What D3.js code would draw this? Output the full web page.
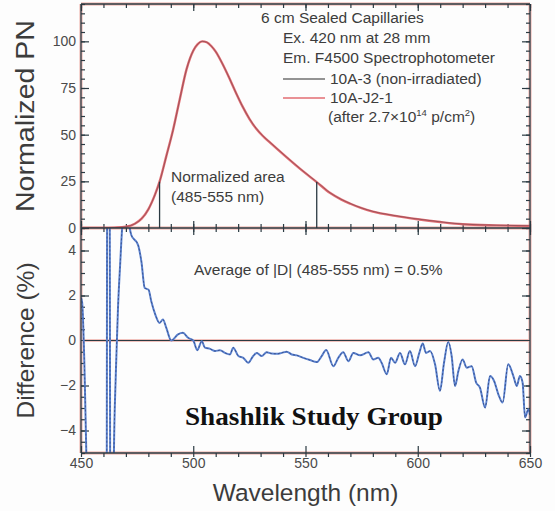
<!DOCTYPE html>
<html>
<head>
<meta charset="utf-8">
<script src="https://cdn.jsdelivr.net/npm/d3@7"></script>
<style>
body{margin:0;background:#fff;}
svg{display:block;font-family:"Liberation Sans",Arial,Helvetica,sans-serif;}
</style>
</head>
<body>
<svg id="chart" width="555" height="511"></svg>
<script>
//上图：归一化光谱（两条几乎重合的曲线）
let pnWl = [450, 460, 465, 470, 474, 477, 480, 483, 485, 488, 491, 494, 497, 500, 502, 504, 506, 508, 510, 513, 516, 519, 522, 525, 528, 531, 534, 541, 549, 555, 561, 566, 570, 575, 580, 590, 600, 610, 620, 635, 650];
let pnIrr = [0, 0, 0.2, 0.7, 2.3, 5, 10, 18, 24.8, 38.5, 52.5, 69, 85, 95, 98.5, 100, 99.5, 97.5, 94.5, 88, 80.5, 72.5, 65, 58.5, 53.3, 49.3, 46, 38.5, 30.3, 24.6, 18.7, 15.2, 13, 10.6, 8.8, 6.5, 4.7, 3.2, 2.0, 1.4, 1.1];
let pnRef = [0, 0, 0.2, 0.7, 2.3, 5, 10, 18, 24.7, 38.4, 52.4, 69, 85, 95, 98.5, 100, 99.5, 97.5, 94.5, 88, 80.5, 72.5, 65, 58.6, 53.4, 49.4, 46.1, 38.6, 30.4, 24.7, 18.8, 15.3, 13.1, 10.7, 8.9, 6.6, 4.8, 3.3, 2.1, 1.5, 1.2];
//积分区间的两条竖线
let areaWl = [485, 555];
let areaVal = [24.8, 24.6];

//下图：差值 (%)
let diffWl = [450, 450.5, 451.5, 452.5, 456, 461.3, 461.8, 462.6, 463.2, 464, 464.6, 465.5, 466.5, 467.5, 468.5, 470,
    471.7, 472.4, 475.4, 476.9, 478.4, 480.1, 481.3, 483.1, 485.0, 486.5, 488.0, 490.2, 493.2, 495.4, 497.7, 500.0,
    501.8, 503.8, 505.2, 507.5, 509.7, 511.9, 514.1, 516.4, 517.8, 520.1, 522.3, 524.5, 526.7, 528.3, 530.5, 532.7,
    534.9, 537.4, 539.4, 541.6, 543.9, 546.1, 549.0, 552.0, 555.0, 557.2, 559.2, 562.4, 564.6, 566.8, 569.1, 571.3,
    574.3, 578.0, 580.2, 582.4, 583.9, 586.2, 588.1, 589.9, 592.1, 594.3, 596.5, 598.8, 600.7, 602.2, 603.7, 605.5,
    607.7, 609.9, 611.7, 613.6, 615.1, 616.6, 618.1, 620.0, 621.8, 624.0, 626.0, 627.7, 630.0, 632.2, 634.0, 635.9,
    637.8, 640.3, 642.6, 644.1, 645.5, 646.7, 647.8, 649.3, 650];
let diffVal = [1.9, 1.7, -1.0, -5.6, -15, -15, 15, 15, -15, -15, -5.5, -1.5, 1.5, 3.5, 5.3, 6.5,
    5.0, 4.69, 4.25, 3.51, 2.33, 2.26, 1.74, 1.15, 0.78, 0.93, 0.56, 0.0, 0.27, 0.34, 0.12, 0.0,
    -0.43, -0.03, -0.32, -0.37, -0.47, -0.43, -0.55, -0.62, -0.32, -0.69, -0.77, -0.99, -0.69, -0.55, -0.69, -0.52,
    -0.58, -0.59, -0.55, -0.5, -0.62, -0.66, -0.77, -0.87, -0.96, -0.69, -0.42, -1.14, -0.77, -0.52, -0.92, -0.55,
    -0.66, -0.52, -0.84, -0.77, -0.99, -1.5, -0.77, -0.99, -0.55, -1.06, -0.47, -1.14, -0.55, -0.13, -0.55, -0.47,
    -1.06, -2.24, -0.99, -0.07, -0.69, -2.02, -1.36, -0.84, -1.21, -1.14, -1.87, -2.09, -2.98, -1.58, -1.8, -2.39,
    -2.76, -1.06, -1.58, -2.02, -1.58, -1.87, -3.42, -3.05, -3.3];

//坐标轴刻度
let xMajor = [450, 500, 550, 600, 650];
let xMinor = d3.range(450, 651, 10);
let topMajor = [0, 25, 50, 75, 100];
let topMinor = d3.range(0, 121, 5);
let botMajor = [-4, -2, 0, 2, 4];
let botMinor = d3.range(-5, 5.01, 0.5);

//画布与区域
let svg = d3.select('#chart');
let px0 = 81, px1 = 530;
let topY0 = 4, midY = 228, botY1 = 453;

let xScale = d3.scaleLinear().domain([450, 650]).range([px0, px1]);
let yTop = d3.scaleLinear().domain([0, 120]).range([midY, topY0]);
let yBot = d3.scaleLinear().domain([-5, 5]).range([botY1, midY]);

let frameColor = '#2b3a42';
let haloColor = '#f1c2bd';
let textColor = '#3c3c3c';

svg.append('rect').attr('width', 555).attr('height', 511).attr('fill', '#fdfdfd');

let defs = svg.append('defs');
defs.append('clipPath').attr('id', 'clipTop').append('rect')
    .attr('x', px0).attr('y', topY0).attr('width', px1 - px0).attr('height', midY - topY0);
defs.append('clipPath').attr('id', 'clipBot').append('rect')
    .attr('x', px0).attr('y', midY).attr('width', px1 - px0).attr('height', botY1 - midY);

//刻度：用d3.axis，刻度朝内
function drawAxis(axis, values, size, labels, transform) {
    axis.tickValues(values).tickSize(size).tickPadding(5);
    if (!labels) axis.tickFormat('');
    let g = svg.append('g').attr('transform', transform).call(axis);
    g.select('.domain').remove();
    g.selectAll('.tick line').attr('stroke', frameColor).attr('stroke-width', 1.2);
    g.selectAll('.tick text').attr('fill', '#4a4a4a')
        .style('font-family', '"Liberation Sans",Arial,sans-serif').style('font-size', '14px');
    return g;
}

//上图左右
drawAxis(d3.axisLeft(yTop), topMinor, -4, false, 'translate(' + px0 + ',0)');
drawAxis(d3.axisLeft(yTop), topMajor, -8, true, 'translate(' + px0 + ',0)');
drawAxis(d3.axisRight(yTop), topMinor, -4, false, 'translate(' + px1 + ',0)');
drawAxis(d3.axisRight(yTop), topMajor, -8, false, 'translate(' + px1 + ',0)');
//下图左右
drawAxis(d3.axisLeft(yBot), botMinor, -4, false, 'translate(' + px0 + ',0)');
drawAxis(d3.axisLeft(yBot), botMajor, -8, true, 'translate(' + px0 + ',0)');
drawAxis(d3.axisRight(yBot), botMinor, -4, false, 'translate(' + px1 + ',0)');
drawAxis(d3.axisRight(yBot), botMajor, -8, false, 'translate(' + px1 + ',0)');
//x方向：顶部、中间（两侧）、底部
drawAxis(d3.axisTop(xScale), xMinor, -4, false, 'translate(0,' + topY0 + ')');
drawAxis(d3.axisTop(xScale), xMajor, -7, false, 'translate(0,' + topY0 + ')');
drawAxis(d3.axisBottom(xScale), xMinor, -4, false, 'translate(0,' + midY + ')');
drawAxis(d3.axisBottom(xScale), xMajor, -7, false, 'translate(0,' + midY + ')');
drawAxis(d3.axisTop(xScale), xMinor, -4, false, 'translate(0,' + midY + ')');
drawAxis(d3.axisTop(xScale), xMajor, -7, false, 'translate(0,' + midY + ')');
drawAxis(d3.axisTop(xScale), xMinor, -4, false, 'translate(0,' + botY1 + ')');
drawAxis(d3.axisBottom(xScale), xMajor, -7, true, 'translate(0,' + botY1 + ')');

//上图曲线
let lineTop = function (vals) {
    return d3.line()
        .x(function (d, i) { return xScale(pnWl[i]); })
        .y(function (d) { return yTop(d); })
        .curve(d3.curveMonotoneX)(vals);
};
let gTop = svg.append('g').attr('clip-path', 'url(#clipTop)');
gTop.append('path').attr('d', lineTop(pnIrr)).attr('fill', 'none')
    .attr('stroke', '#e26d72').attr('stroke-width', 2.4);
gTop.append('path').attr('d', lineTop(pnRef)).attr('fill', 'none')
    .attr('stroke', '#3a2a36').attr('stroke-width', 0.8).attr('stroke-opacity', 0.5);

//积分区间竖线
svg.append('g').selectAll('line')
    .data(areaWl)
    .enter()
    .append('line')
    .attr('x1', function (d) { return xScale(d); })
    .attr('x2', function (d) { return xScale(d); })
    .attr('y1', yTop(0))
    .attr('y2', function (d, i) { return yTop(areaVal[i]); })
    .attr('stroke', frameColor).attr('stroke-width', 1.3);

//下图曲线
let lineBot = d3.line()
    .x(function (d, i) { return xScale(diffWl[i]); })
    .y(function (d) { return yBot(d); })
    .curve(d3.curveMonotoneX);
let gBot = svg.append('g').attr('clip-path', 'url(#clipBot)');
//零线
gBot.append('line').attr('x1', px0).attr('x2', px1).attr('y1', yBot(0)).attr('y2', yBot(0))
    .attr('stroke', haloColor).attr('stroke-width', 3.2);
gBot.append('line').attr('x1', px0).attr('x2', px1).attr('y1', yBot(0)).attr('y2', yBot(0))
    .attr('stroke', frameColor).attr('stroke-width', 1.2);
gBot.append('path').attr('d', lineBot(diffVal)).attr('fill', 'none')
    .attr('stroke', '#5b82d0').attr('stroke-width', 2);
gBot.append('path').attr('d', lineBot(diffVal)).attr('fill', 'none')
    .attr('stroke', '#27386a').attr('stroke-width', 0.8).attr('stroke-dasharray', '2,2').attr('stroke-opacity', 0.8);

//外框（粉色光晕 + 深色线）
[[px0, topY0, px1, topY0], [px0, midY, px1, midY], [px0, botY1, px1, botY1],
    [px0, topY0, px0, botY1], [px1, topY0, px1, botY1]].forEach(function (s) {
    svg.insert('line', 'g').attr('x1', s[0]).attr('y1', s[1]).attr('x2', s[2]).attr('y2', s[3])
        .attr('stroke', haloColor).attr('stroke-width', 3.4);
    svg.append('line').attr('x1', s[0]).attr('y1', s[1]).attr('x2', s[2]).attr('y2', s[3])
        .attr('stroke', frameColor).attr('stroke-width', 1.3);
});

//注释文字
let note = svg.append('g').attr('fill', textColor).style('font-size', '15.5px');
note.append('text').attr('x', 261).attr('y', 23).text('6 cm Sealed Capillaries');
note.append('text').attr('x', 283).attr('y', 43).text('Ex. 420 nm at 28 mm');
note.append('text').attr('x', 283).attr('y', 63).text('Em. F4500 Spectrophotometer');
note.append('text').attr('x', 330).attr('y', 84).text('10A-3 (non-irradiated)');
note.append('text').attr('x', 330).attr('y', 103).text('10A-J2-1');
let after = note.append('text').attr('x', 328).attr('y', 122);
after.append('tspan').text('(after 2.7\u00d710');
after.append('tspan').attr('dy', -6).style('font-size', '9.5px').text('14');
after.append('tspan').attr('dy', 6).text(' p/cm');
after.append('tspan').attr('dy', -6).style('font-size', '9.5px').text('2');
after.append('tspan').attr('dy', 6).text(')');
note.append('text').attr('x', 171).attr('y', 182).text('Normalized area');
note.append('text').attr('x', 171).attr('y', 202).text('(485-555 nm)');
note.append('text').attr('x', 194).attr('y', 275).text('Average of |D| (485-555 nm) = 0.5%');

//图例线
svg.append('line').attr('x1', 283).attr('x2', 325).attr('y1', 79).attr('y2', 79)
    .attr('stroke', '#2a2a2a').attr('stroke-width', 1.2);
svg.append('line').attr('x1', 283).attr('x2', 325).attr('y1', 98).attr('y2', 98)
    .attr('stroke', '#e26d72').attr('stroke-width', 1.6);

//坐标轴标题
svg.append('text').attr('transform', 'translate(34,' + ((topY0 + midY) / 2) + ') rotate(-90)')
    .attr('text-anchor', 'middle').attr('fill', textColor).style('font-size', '25px')
    .attr('textLength', 192).attr('lengthAdjust', 'spacingAndGlyphs').text('Normalized PN');
svg.append('text').attr('transform', 'translate(34,' + ((midY + botY1) / 2) + ') rotate(-90)')
    .attr('text-anchor', 'middle').attr('fill', textColor).style('font-size', '24.5px')
    .text('Difference (%)');
svg.append('text').attr('x', (px0 + px1) / 2).attr('y', 501)
    .attr('text-anchor', 'middle').attr('fill', textColor).style('font-size', '24.5px')
    .text('Wavelength (nm)');

//水印
svg.append('text').attr('x', 185).attr('y', 425)
    .attr('fill', '#111').style('font-family', '"Liberation Serif","DejaVu Serif",serif')
    .style('font-weight', 'bold').style('font-size', '25px')
    .attr('textLength', 258).attr('lengthAdjust', 'spacingAndGlyphs')
    .text('Shashlik Study Group');
</script>
</body>
</html>
